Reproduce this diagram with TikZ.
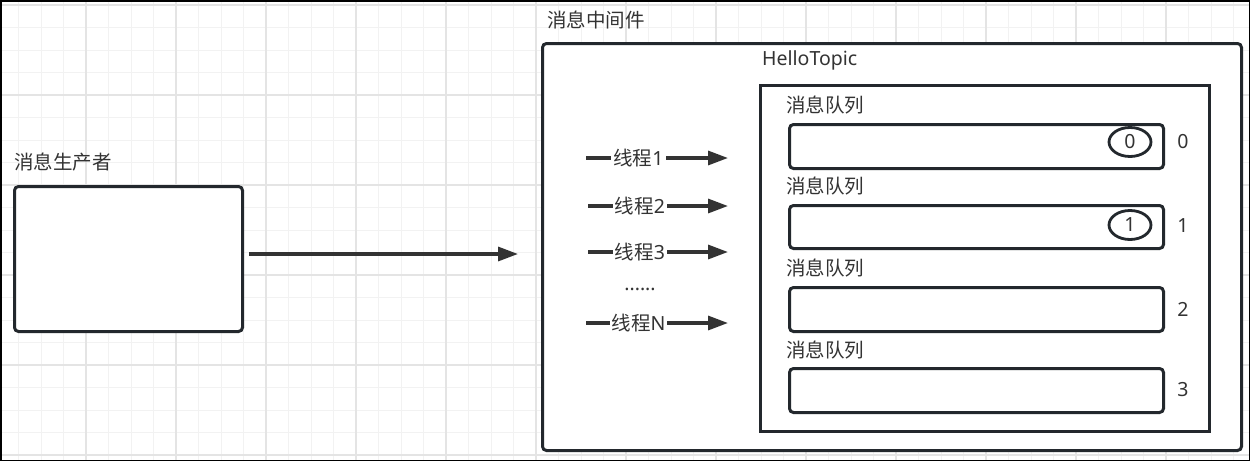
\documentclass[tikz,border=0pt]{standalone}
\usepackage{fontspec}
\setmainfont{Noto Sans}
\newfontfamily\cjkf{Noto Sans CJK SC}
\usetikzlibrary{arrows.meta,shapes.geometric}
\definecolor{dk}{HTML}{23282D}
\definecolor{txt}{HTML}{333333}
\definecolor{gmin}{HTML}{F2F2F2}
\definecolor{gmaj}{HTML}{E4E4E4}
\begin{document}
\begin{tikzpicture}[x=1pt,y=-1pt,
  box/.style={draw=dk,line width=3pt,rounded corners=4pt,fill=white,inner sep=0pt,anchor=north west},
  topicbox/.style={draw=dk,line width=2.8pt,fill=white,inner sep=0pt,anchor=north west},
  lbl/.style={text=txt,font=\fontsize{19.5}{23}\selectfont\cjkf,inner sep=0pt,anchor=west},
  num/.style={text=txt,font=\fontsize{19.5}{23}\selectfont,inner sep=0pt},
  arr/.style={draw=txt,line width=3.2pt,-{Triangle[length=20pt,width=14pt]}},
  thr/.style={text=txt,font=\fontsize{19.5}{23}\selectfont,fill=white,inner xsep=2pt,inner ysep=1pt},
  ell/.style={ellipse,draw=dk,line width=2.8pt,minimum width=42pt,minimum height=29pt,inner sep=0pt,text=txt,font=\fontsize{19.5}{23}\selectfont}
]
\useasboundingbox (0,0) rectangle (1250,461);
\fill[white] (0,0) rectangle (1250,461);
% grid
\foreach \i in {0,...,56} \draw[gmin,line width=1pt] ({-4+22.5*\i},0) -- ({-4+22.5*\i},461);
\foreach \j in {0,...,20} \draw[gmin,line width=1pt] (0,{5+22.5*\j}) -- (1250,{5+22.5*\j});
\foreach \i in {0,...,14} \draw[gmaj,line width=1.2pt] ({-4+90*\i},0) -- ({-4+90*\i},461);
\foreach \j in {0,...,5} \draw[gmaj,line width=1.2pt] (0,{5+90*\j}) -- (1250,{5+90*\j});
% frame
\draw[black,line width=1.5pt] (0.75,0.75) rectangle (1249.25,460.25);

% producer
\node[box,minimum width=228pt,minimum height=145pt] (prod) at (13,185) {};
\node[lbl] (prodl) at (14,162) {消息生产者};

% middleware
\node[box,minimum width=699pt,minimum height=407pt] (mw) at (541,42) {};
\node[lbl] (mwl) at (547,20) {消息中间件};
\node[topicbox,minimum width=449pt,minimum height=346pt] (topic) at (759,84) {};
\node[num,anchor=west] (topicl) at (762,60.5) {HelloTopic};

% queues
\node[box,minimum width=374pt,minimum height=44pt] (q0) at (788,123) {};
\node[box,minimum width=374pt,minimum height=43pt] (q1) at (788,204) {};
\node[box,minimum width=374pt,minimum height=44pt] (q2) at (788,286) {};
\node[box,minimum width=374pt,minimum height=44pt] (q3) at (788,367) {};
\node[lbl] (ql0) at (786,105) {消息队列};
\node[lbl] (ql1) at (786,186) {消息队列};
\node[lbl] (ql2) at (786,268) {消息队列};
\node[lbl] (ql3) at (786,350) {消息队列};
\node[num] (qn0) at (1183,142) {0};
\node[num] (qn1) at (1183,226) {1};
\node[num] (qn2) at (1183,309) {2};
\node[num] (qn3) at (1183,390) {3};
\node[ell] (el0) at (1130,142) {0};
\node[ell] (el1) at (1130,225) {1};

% main arrow
\coordinate (ms) at (249,254);
\coordinate (me) at (518,254);
\draw[arr] (ms) -- (me);

% thread arrows
\coordinate (ts1) at (586,158); \coordinate (te1) at (728,158);
\coordinate (ts2) at (588,206); \coordinate (te2) at (728,206);
\coordinate (ts3) at (588,252); \coordinate (te3) at (728,252);
\coordinate (tsn) at (586,323); \coordinate (ten) at (728,323);
\draw[arr] (ts1) -- (te1);
\draw[arr] (ts2) -- (te2);
\draw[arr] (ts3) -- (te3);
\draw[arr] (tsn) -- (ten);
\node[thr] (th1) at (638.5,158) {{\cjkf 线程}1};
\node[thr] (th2) at (640,206) {{\cjkf 线程}2};
\node[thr] (th3) at (640,252) {{\cjkf 线程}3};
\node[thr] (thn) at (638.5,323) {{\cjkf 线程}N};
\node[num] (dots) at (640,289) {......};
\end{tikzpicture}
\end{document}
